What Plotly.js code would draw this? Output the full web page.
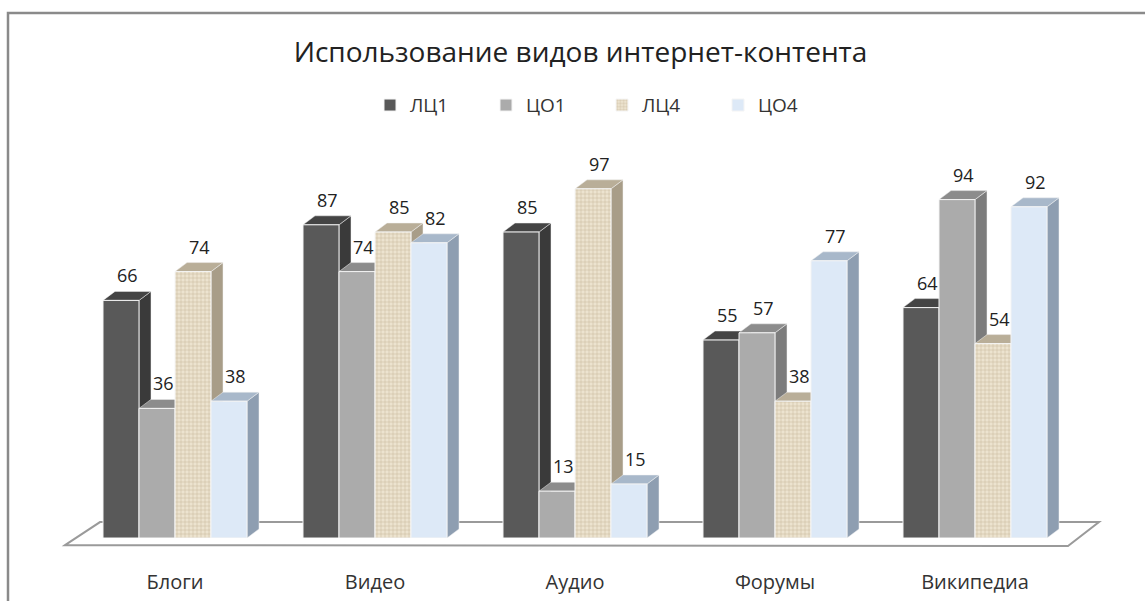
<!DOCTYPE html>
<html>
<head>
<meta charset="utf-8">
<script src="https://cdn.plot.ly/plotly-3.0.1.min.js"></script>
<style>html,body{margin:0;padding:0;background:#fff}#chart{width:1145px;height:601px}</style>
</head>
<body>
<div id="chart"></div>
<script>
const categories = ["Блоги", "Видео", "Аудио", "Форумы", "Википедиа"];
const seriesNames = ["ЛЦ1", "ЦО1", "ЛЦ4", "ЦО4"];
const lc1 = [66, 87, 85, 55, 64];
const co1 = [36, 74, 13, 57, 94];
const lc4 = [74, 85, 97, 38, 54];
const co4 = [38, 82, 15, 77, 92];
const allSeries = [lc1, co1, lc4, co4];

const frontColors = ["#595959", "#ababab", "#e8dec8", "#dde9f7"];
const sideColors  = ["#3a3a3a", "#7c7c7c", "#a89d88", "#8e9eb1"];
const topColors   = ["#444444", "#8c8c8c", "#b9ae98", "#a8b8ca"];

const FONT = "Open Sans, Noto Sans, sans-serif";
const bargap = 0.28;
const nS = allSeries.length;
const w = (1 - bargap) / nS;
const dx = 0.06;   // depth offset in category units
const dy = 2.5;    // depth offset in value units

const traces = allSeries.map((vals, s) => {
  const t = {
    type: "bar",
    name: seriesNames[s],
    x: categories.map((_, i) => i),
    y: vals,
    marker: {color: frontColors[s], line: {color: "#f4f4f4", width: 1}},
    hoverinfo: "y+name"
  };
  if (s === 2) {
    t.marker.pattern = {shape: "+", fgcolor: "#c9bb9d", bgcolor: "#ece3cf", size: 4, solidity: 0.25, fillmode: "replace"};
  }
  return t;
});

const shapes = [];
const annotations = [];
categories.forEach((c, i) => {
  allSeries.forEach((vals, s) => {
    const v = vals[i];
    const xl = i - (1 - bargap) / 2 + w * s;
    const xr = xl + w;
    shapes.push({type: "path", xref: "x", yref: "y", layer: "below",
      path: `M ${xr},0 L ${xr},${v} L ${xr + dx},${v + dy} L ${xr + dx},${dy} Z`,
      fillcolor: sideColors[s], line: {width: 0.5, color: "#f0f0f0"}});
    shapes.push({type: "path", xref: "x", yref: "y", layer: "below",
      path: `M ${xl},${v} L ${xr},${v} L ${xr + dx},${v + dy} L ${xl + dx},${v + dy} Z`,
      fillcolor: topColors[s], line: {width: 0.5, color: "#f0f0f0"}});
    annotations.push({x: (xl + xr) / 2 + dx / 2, y: v + dy, xref: "x", yref: "y",
      text: String(v), showarrow: false, yanchor: "bottom", yshift: 2,
      font: {family: FONT, size: 18, color: "#222"}});
  });
});

const floor = {type: "path", xref: "paper", yref: "paper", layer: "below",
  path: "M -0.010,-0.019 L 0.025,0.042 L 1.024,0.042 L 0.993,-0.021 Z",
  fillcolor: "#ffffff", line: {color: "#9a9a9a", width: 2}};
const frame = {type: "path", xref: "paper", yref: "paper", layer: "above",
  path: "M -0.067,-0.25 L -0.067,1.389 L 1.2,1.389",
  line: {color: "#8a8a8a", width: 2.5}};

const layout = {
  width: 1145, height: 601,
  margin: {l: 75, r: 70, t: 160, b: 63},
  paper_bgcolor: "#ffffff", plot_bgcolor: "rgba(0,0,0,0)",
  title: {text: "Использование видов интернет-контента", x: 0.507, xanchor: "center", y: 0.913, yanchor: "middle",
    font: {family: FONT, size: 28, color: "#222"}},
  showlegend: true,
  legend: {orientation: "h", x: 0.527, xanchor: "center", y: 1.145, yanchor: "middle",
    font: {family: FONT, size: 19, color: "#333"},
    entrywidth: 71, entrywidthmode: "pixels", itemwidth: 30, traceorder: "normal"},
  barmode: "group", bargap: bargap, bargroupgap: 0,
  xaxis: {type: "linear", range: [-0.5, 4.5], tickmode: "array", tickvals: categories.map((_, i) => i), ticktext: categories,
    showgrid: false, zeroline: false, showline: false, ticks: "outside", ticklen: 26, tickcolor: "rgba(0,0,0,0)",
    tickfont: {family: FONT, size: 20, color: "#333"}},
  yaxis: {range: [0, 105], showgrid: false, zeroline: false, showticklabels: false, showline: false},
  shapes: [floor].concat(shapes).concat([frame]),
  annotations: annotations
};

Plotly.newPlot("chart", traces, layout, {displayModeBar: false, staticPlot: true});
</script>
</body>
</html>
